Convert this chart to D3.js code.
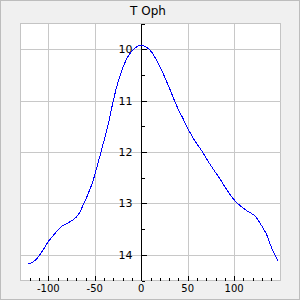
<!DOCTYPE html>
<meta charset="utf-8">
<style>
body { margin: 0; }
text { font-family: "DejaVu Sans", sans-serif; fill: #000; }
line, rect, path { shape-rendering: crispEdges; }
</style>
<svg width="300" height="300"></svg>
<script src="https://d3js.org/d3.v7.min.js"></script>
<script>
var title = "T Oph";
var phase = [-122, -116.6, -111.2, -105.8, -100.4, -95, -89.7, -84.3, -78.9, -73.5, -68.1, -62.7, -57.3, -51.9,
             -42.9, -35.8, -30.4, -25, -19.6, -14.2, -8.8, -3.4, 0.2, 5.6, 11, 16.4, 23.5, 30.7, 37.9, 45,
             50.4, 57.7, 64.9, 73.8, 84.6, 95.4, 102.6, 113.4, 122.3, 129.5, 134.9, 140.3, 147.4];
var mag = [14.18, 14.14, 14.05, 13.91, 13.75, 13.63, 13.52, 13.43, 13.38, 13.32, 13.23, 13.04, 12.82, 12.56,
           11.97, 11.48, 11.03, 10.64, 10.35, 10.14, 10.01, 9.94, 9.92, 9.96, 10.05, 10.21, 10.47, 10.77, 11.09, 11.35,
           11.55, 11.78, 11.97, 12.23, 12.52, 12.82, 12.98, 13.14, 13.24, 13.43, 13.60, 13.86, 14.12];
var xTicks = [-100, -50, 0, 50, 100];
var yTicks = [10, 11, 12, 13, 14];

var svg = d3.select("svg");
var pLeft = 20.5, pRight = 280.5, pTop = 23.5, pBottom = 280.5;

svg.append("rect")
    .attr("x", 0.5).attr("y", 0.5).attr("width", 299).attr("height", 299)
    .attr("fill", "#f0f0f0").attr("stroke", "#bdbdbd");

svg.append("rect")
    .attr("x", pLeft).attr("y", pTop).attr("width", pRight - pLeft).attr("height", pBottom - pTop)
    .attr("fill", "#fff").attr("stroke", "#c4c4c4");

var x = d3.scaleLinear().domain([-130, 150]).range([pLeft, pRight]);
var y = d3.scaleLinear().domain([9.5, 14.5]).range([pTop, pBottom]);

var sx = function(v) { return Math.round(x(v)) + 0.5; };
var sy = function(v) { return Math.round(y(v)) + 0.5; };

// grid
var grid = svg.append("g").attr("stroke", "#c8c8c8");
grid.selectAll(".gx").data(xTicks).enter().append("line")
    .attr("x1", sx).attr("x2", sx).attr("y1", pTop).attr("y2", pBottom);
grid.selectAll(".gy").data(yTicks).enter().append("line")
    .attr("x1", pLeft).attr("x2", pRight).attr("y1", sy).attr("y2", sy);

// y axis at x = 0
var ax = sx(0);
svg.append("line").attr("x1", ax).attr("x2", ax).attr("y1", pTop).attr("y2", pBottom).attr("stroke", "#000");
var yMinor = d3.range(9.5, 14.51, 0.5);
svg.append("g").selectAll("line").data(yMinor).enter().append("line")
    .attr("x1", ax).attr("x2", function(d) { return ax + (d % 1 === 0 ? 5 : 3); })
    .attr("y1", sy).attr("y2", sy).attr("stroke", "#000");
svg.append("g").selectAll("text").data(yTicks).enter().append("text")
    .attr("x", ax - 9).attr("y", function(d) { return y(d) + 4; })
    .attr("text-anchor", "end").attr("font-size", 11).text(function(d) { return d; });

// x axis ticks at bottom
var xMinor = d3.range(-120, 141, 10);
svg.append("g").selectAll("line").data(xMinor).enter().append("line")
    .attr("x1", sx).attr("x2", sx)
    .attr("y1", pBottom).attr("y2", function(d) { return pBottom - (d % 50 === 0 ? 5 : 3); })
    .attr("stroke", "#000");
svg.append("g").selectAll("text").data(xTicks).enter().append("text")
    .attr("x", x).attr("y", 292)
    .attr("text-anchor", "middle").attr("font-size", 10).text(function(d) { return d; });

// curve
var pts = phase.map(function(p, i) { return [p, mag[i]]; });
svg.append("path").datum(pts)
    .attr("fill", "none").attr("stroke", "#0000ff").attr("stroke-width", 1)
    .attr("d", d3.line().x(function(d) { return x(d[0]); }).y(function(d) { return y(d[1]); })
        .curve(d3.curveCatmullRom));

svg.append("text").attr("x", 148).attr("y", 15).attr("text-anchor", "middle")
    .attr("font-size", 12).text(title);
</script>
